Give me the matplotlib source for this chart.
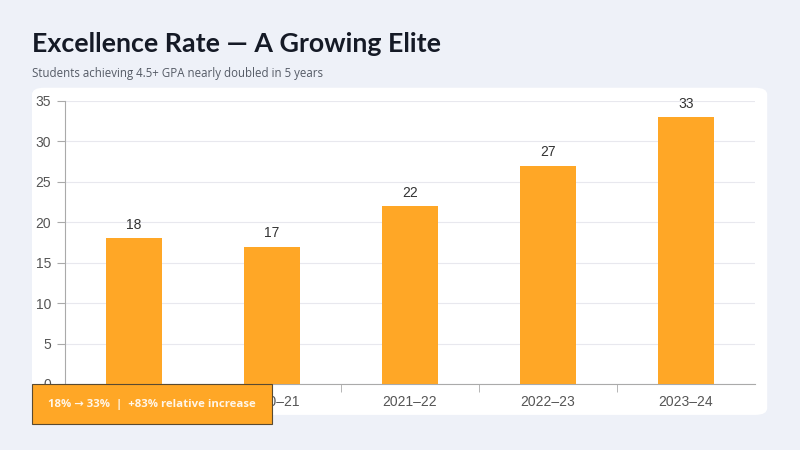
import matplotlib.pyplot as plt
from matplotlib.patches import FancyBboxPatch, Rectangle

years = ["2019–20", "2020–21", "2021–22", "2022–23", "2023–24"]
rates = [18, 17, 22, 27, 33]
y_ticks = [0, 5, 10, 15, 20, 25, 30, 35]

title = "Excellence Rate — A Growing Elite"
subtitle = "Students achieving 4.5+ GPA nearly doubled in 5 years"
callout = "18% → 33%  |  +83% relative increase"

bg = "#eef1f8"
bar_color = "#FFA726"

fig = plt.figure(figsize=(8, 4.5), dpi=100, facecolor=bg)

# white card behind the chart
card = FancyBboxPatch((0.04, 0.078), 0.919, 0.727,
                      boxstyle="round,pad=0,rounding_size=0.015",
                      transform=fig.transFigure, facecolor="white",
                      edgecolor="none", zorder=-5)
fig.patches.append(card)

fig.text(0.04, 0.885, title, fontsize=19.3, fontweight="bold",
         family="Lato", color="#151a26", va="baseline")
fig.text(0.04, 0.828, subtitle, fontsize=8.3, family="Open Sans",
         color="#555b66", va="baseline")

ax = fig.add_axes([0.08125, 0.1467, 0.8625, 0.6289])
ax.set_facecolor("none")

x = range(len(years))
ax.bar(x, rates, width=0.4, color=bar_color, zorder=3)
for xi, v in zip(x, rates):
    ax.text(xi, v + 0.8, str(v), ha="center", va="bottom", fontsize=10,
            family="Liberation Sans", color="#333333", zorder=4)

ax.set_xlim(-0.5, len(years) - 0.5)
ax.set_ylim(0, 35)
ax.set_yticks(y_ticks)
ax.set_xticks(list(x))
ax.set_xticklabels(years)
ax.set_xticks([i + 0.5 for i in range(len(years) - 1)], minor=True)
ax.tick_params(axis="x", which="major", length=0, pad=8)
ax.tick_params(axis="x", which="minor", length=6, color="#aaaaaa")
ax.tick_params(axis="y", length=6, color="#aaaaaa", pad=4)
for lab in ax.get_xticklabels() + ax.get_yticklabels():
    lab.set_family("Liberation Sans")
    lab.set_fontsize(10)
    lab.set_color("#555555")

ax.grid(axis="y", color="#e8e8ee", linewidth=0.8, zorder=0)
for side in ["top", "right"]:
    ax.spines[side].set_visible(False)
for side in ["left", "bottom"]:
    ax.spines[side].set_color("#aaaaaa")
    ax.spines[side].set_linewidth(0.8)

# callout box
box = Rectangle((0.04, 0.058), 0.3, 0.089, transform=fig.transFigure,
                facecolor=bar_color, edgecolor="#5a4a30", linewidth=0.8,
                zorder=10)
fig.patches.append(box)
fig.text(0.19, 0.102, callout, fontsize=8.2, fontweight="bold",
         family=["Open Sans", "DejaVu Sans"], color="#fff6e8",
         ha="center", va="center", zorder=11)

fig.savefig("out.png", dpi=100, facecolor=bg)
